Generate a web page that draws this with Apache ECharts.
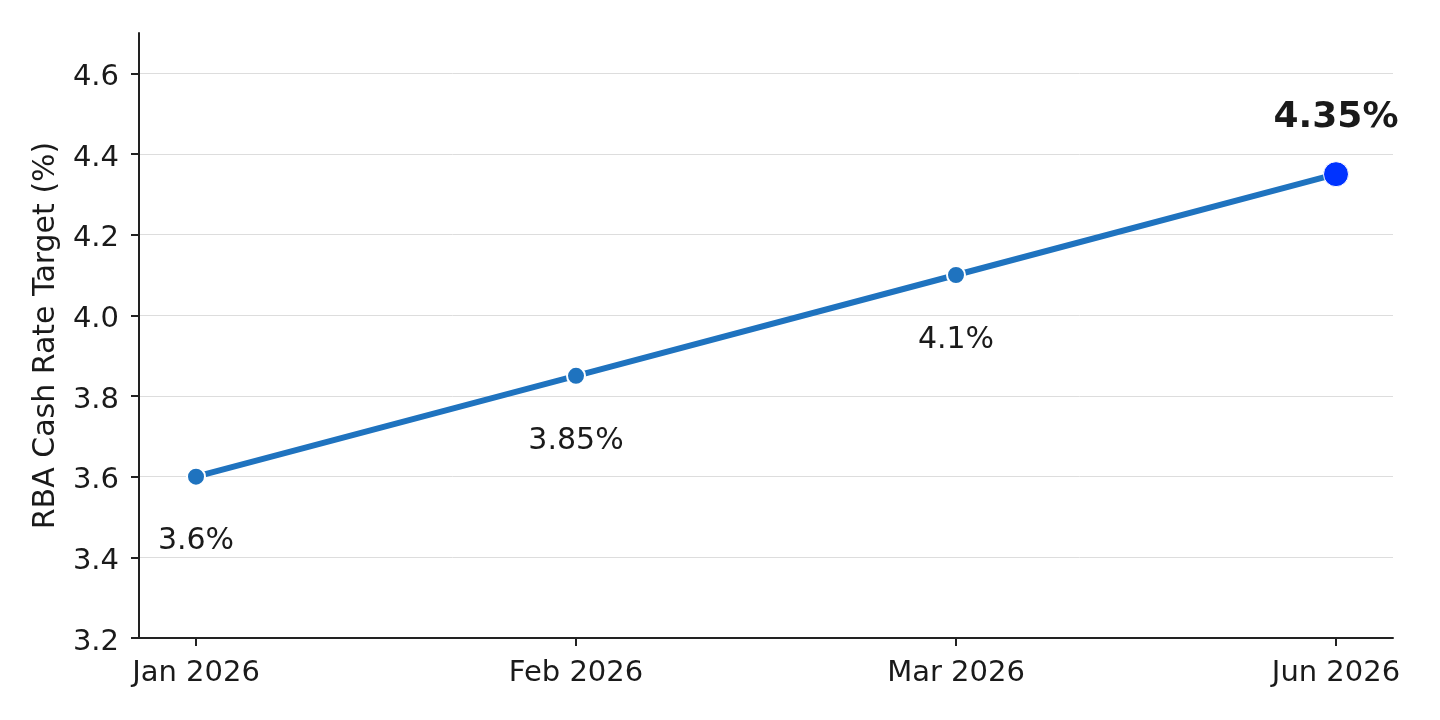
<!DOCTYPE html>
<html>
<head>
<meta charset="utf-8">
<script src="https://cdn.jsdelivr.net/npm/echarts@6/dist/echarts.min.js"></script>
<style>
  html, body { margin: 0; padding: 0; background: #fff; }
  #chart { width: 1440px; height: 720px; }
</style>
</head>
<body>
<div id="chart"></div>
<script>
  // data
  var months = ['Jan 2026', 'Feb 2026', 'Mar 2026', 'Jun 2026'];
  var rates = [3.6, 3.85, 4.1, 4.35];
  var yTicks = [3.2, 3.4, 3.6, 3.8, 4.0, 4.2, 4.4, 4.6];

  var font = 'DejaVu Sans';
  var ink = '#1a1a1a';
  var last = rates.length - 1;

  var points = rates.map(function (v, i) {
    var p = {
      value: [i, v],
      label: {
        show: true,
        position: 'inside',
        offset: [0, 65],
        formatter: v + '%',
        color: ink,
        fontSize: 30,
        fontFamily: font
      }
    };
    if (i === last) {
      p.symbolSize = 25;
      p.itemStyle = { color: '#0033ff', borderColor: '#fff', borderWidth: 1 };
      p.label.offset = [0, -57];
      p.label.fontSize = 36;
      p.label.fontWeight = 'bold';
    }
    return p;
  });

  var chart = echarts.init(document.getElementById('chart'));
  chart.setOption({
    animation: false,
    backgroundColor: '#fff',
    grid: { left: 139, right: 47, top: 33, bottom: 82, containLabel: false },
    xAxis: {
      type: 'value',
      min: -0.15,
      max: 3.15,
      axisLine: { onZero: false, lineStyle: { color: '#222', width: 2 } },
      axisTick: { show: true, length: 8, lineStyle: { color: '#222', width: 2 }, customValues: [0, 1, 2, 3] },
      axisLabel: {
        customValues: [0, 1, 2, 3],
        formatter: function (v) { return months[Math.round(v)]; },
        color: ink, fontSize: 29, fontFamily: font, margin: 21
      },
      splitLine: { show: false }
    },
    yAxis: {
      type: 'value',
      min: 3.2,
      max: 4.7,
      name: 'RBA Cash Rate Target (%)',
      nameLocation: 'middle',
      nameGap: 78,
      nameTextStyle: { color: ink, fontSize: 30, fontFamily: font },
      axisLine: { show: true, onZero: false, lineStyle: { color: '#222', width: 2 } },
      axisTick: { show: true, length: 8, lineStyle: { color: '#222', width: 2 }, customValues: yTicks },
      axisLabel: {
        customValues: yTicks,
        formatter: function (v) { return '{t|' + v.toFixed(1) + '}'; },
        margin: 20,
        rich: {
          t: { color: ink, fontSize: 29, fontFamily: font, padding: [8, 0, 0, 0] }
        }
      },
      splitLine: { show: true, lineStyle: { color: '#dddddd', width: 1 } }
    },
    series: [{
      type: 'line',
      data: points,
      symbol: 'circle',
      symbolSize: 18,
      lineStyle: { color: '#1f73bf', width: 6 },
      itemStyle: { color: '#1f73bf', borderColor: '#fff', borderWidth: 2 },
      z: 3
    }]
  });
</script>
</body>
</html>
